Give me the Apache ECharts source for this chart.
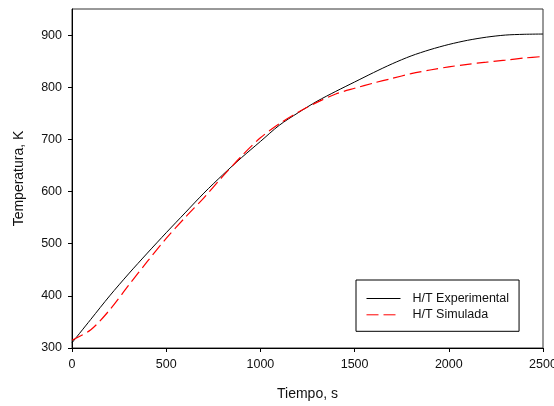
<!DOCTYPE html>
<html>
<head>
<meta charset="utf-8">
<script src="https://cdn.jsdelivr.net/npm/echarts@6/dist/echarts.min.js"></script>
<style>
html,body{margin:0;padding:0;background:#fff;}
#c{width:554px;height:406px;}
</style>
</head>
<body>
<div id="c"></div>
<script>
// Time (s)
const timeS = [0,100,200,300,400,500,600,700,800,900,1000,1100,1200,1300,1400,1500,1600,1700,1800,1900,2000,2100,2200,2300,2400,2500];
// H/T Experimental temperature (K)
const tempExperimental = [310,355,400,442,482,521,559,597,632,665,696,727,751,773,792,810,828,845,860,872,882,890,896,900,901.5,902];
// H/T Simulada temperature (K)
const tempSimulada = [315,335,373,420,466,510,550,588,629,668,703,730,752,771,787,798,808,817,826,833,839,844,848,852,856,859];
const yTicks = [300,400,500,600,700,800,900];
const xTicks = [0,500,1000,1500,2000,2500];
const seriesNames = ['H/T Experimental','H/T Simulada'];

const pairs = (xs, ys) => xs.map((x, i) => [x, ys[i]]);
const font = 'Liberation Sans, Arial, sans-serif';

const chart = echarts.init(document.getElementById('c'), null, {renderer:'canvas'});
chart.setOption({
  animation:false,
  backgroundColor:'#fff',
  grid:{left:72,right:11,top:9,bottom:58,show:true,borderColor:'#333',borderWidth:1,outerBoundsMode:'none'},
  xAxis:{
    type:'value',min:0,max:2500,interval:500,
    name:'Tiempo, s',nameLocation:'middle',nameGap:39,
    nameTextStyle:{fontFamily:font,fontSize:14,color:'#111'},
    axisLine:{show:true,lineStyle:{color:'#000',width:1}},
    axisTick:{show:true,inside:false,length:4,lineStyle:{color:'#000'},customValues:xTicks},
    axisLabel:{fontFamily:font,fontSize:12.5,color:'#111',margin:10,customValues:xTicks,formatter:v=>String(v)},
    splitLine:{show:false}
  },
  yAxis:{
    type:'value',min:300,max:950,
    name:'Temperatura, K',nameLocation:'middle',nameGap:46,nameRotate:90,
    nameTextStyle:{fontFamily:font,fontSize:14,color:'#111'},
    axisLine:{show:true,lineStyle:{color:'#000',width:1}},
    axisTick:{show:true,inside:false,length:4,lineStyle:{color:'#000'},customValues:yTicks},
    axisLabel:{fontFamily:font,fontSize:12.5,color:'#111',margin:10,customValues:yTicks,formatter:v=>String(v)},
    splitLine:{show:false}
  },
  legend:{
    orient:'vertical',left:356,top:280,
    padding:[11.5,10,9.5,10],
    borderColor:'#000',borderWidth:1,backgroundColor:'#fff',
    itemWidth:34,itemHeight:14,itemGap:2.3,
    itemStyle:{color:'rgba(0,0,0,0)',borderColor:'rgba(0,0,0,0)',borderWidth:0,opacity:0},
    lineStyle:{width:1},
    textStyle:{fontFamily:font,fontSize:12.5,color:'#111',padding:[0,0,0,7],lineHeight:14},
    data:seriesNames
  },
  series:[
    {name:seriesNames[0],type:'line',data:pairs(timeS,tempExperimental),symbol:'none',showSymbol:false,smooth:0.3,
     lineStyle:{color:'#000',width:1},itemStyle:{color:'#000'}},
    {name:seriesNames[1],type:'line',data:pairs(timeS,tempSimulada),symbol:'none',showSymbol:false,smooth:0.3,
     lineStyle:{color:'#ff0000',width:1.2,type:[12,5]},itemStyle:{color:'#ff0000'}}
  ]
});
</script>
</body>
</html>
